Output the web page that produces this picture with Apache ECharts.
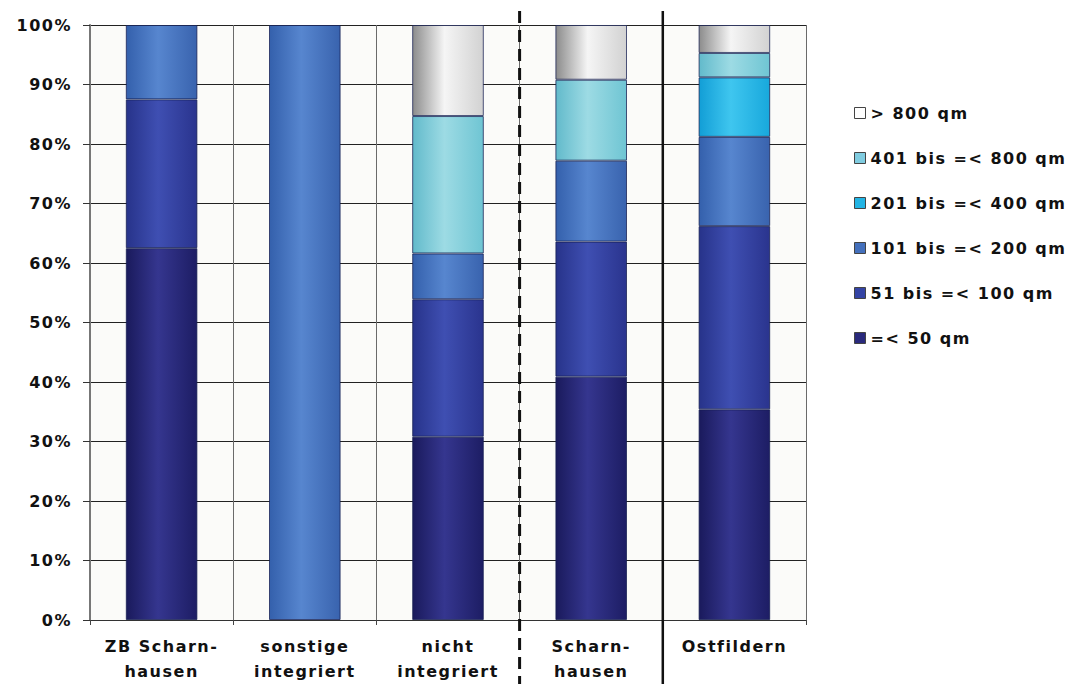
<!DOCTYPE html>
<html>
<head>
<meta charset="utf-8">
<script src="https://cdn.jsdelivr.net/npm/echarts@6/dist/echarts.min.js"></script>
<style>
  html, body { margin: 0; padding: 0; background: #ffffff; }
  #chart { width: 1068px; height: 684px; }
  #chart text { letter-spacing: 1.5px; }
</style>
</head>
<body>
<div id="chart"></div>
<script>
// Verkaufsflächen-Größenklassen je Standortlage (Anteile in %)
const categories = ['ZB Scharn-\nhausen', 'sonstige\nintegriert', 'nicht\nintegriert', 'Scharn-\nhausen', 'Ostfildern'];
const seriesNames = ['=< 50 qm', '51 bis =< 100 qm', '101 bis =< 200 qm', '201 bis =< 400 qm', '401 bis =< 800 qm', '> 800 qm'];
const upTo50   = [62.5,   0, 30.8, 40.9, 35.4];
const upTo100  = [25.0,   0, 23.1, 22.7, 30.8];
const upTo200  = [12.5, 100,  7.7, 13.6, 15.0];
const upTo400  = [   0,   0,    0,    0, 10.0];
const upTo800  = [   0,   0, 23.1, 13.6,  4.1];
const over800  = [   0,   0, 15.3,  9.2,  4.7];
const yTicks = [0, 10, 20, 30, 40, 50, 60, 70, 80, 90, 100];

const FONT = 'DejaVu Sans';

// cylinder-like shading across each column
function shade(edgeL, mid, edgeR) {
  return {
    type: 'linear', x: 0, y: 0, x2: 1, y2: 0,
    colorStops: [
      { offset: 0, color: edgeL },
      { offset: 0.45, color: mid },
      { offset: 1, color: edgeR }
    ]
  };
}

const palette = [
  { fill: shade('#1a1a5c', '#35368f', '#1d1d64'), key: '#2a2a7c' },
  { fill: shade('#27338a', '#3f4fb2', '#2a348e'), key: '#3444a4' },
  { fill: shade('#3460ac', '#5786cf', '#3963ae'), key: '#4470bc' },
  { fill: shade('#129ed6', '#3fc6ef', '#18a8dc'), key: '#22b4e4' },
  { fill: shade('#62bacb', '#9ddbe4', '#6fc5d3'), key: '#80cce0' },
  { fill: shade('#8c8c8c', '#f5f5f5', '#d2d2d2'), key: '#ffffff' }
];

const values = [upTo50, upTo100, upTo200, upTo400, upTo800, over800];

const series = seriesNames.map((name, i) => ({
  name: name,
  type: 'bar',
  stack: 'total',
  barWidth: '50%',
  data: values[i].map(v => (v === 0 ? '-' : v)),
  itemStyle: {
    color: palette[i].fill,
    borderColor: 'rgba(20,30,80,0.75)',
    borderWidth: 1
  },
  emphasis: { disabled: true }
}));

const chart = echarts.init(document.getElementById('chart'), null, { renderer: 'svg' });

chart.setOption({
  animation: false,
  backgroundColor: '#ffffff',
  textStyle: { fontFamily: FONT },
  grid: {
    left: 90, right: 262, top: 25, bottom: 59,
    show: true, backgroundColor: '#fbfbf9', borderWidth: 0
  },
  legend: {
    orient: 'vertical',
    left: 849,
    top: 100,
    itemWidth: 11,
    itemHeight: 11,
    itemGap: 29,
    icon: 'rect',
    selectedMode: false,
    textStyle: { fontFamily: FONT, fontWeight: 'bold', fontSize: 16, color: '#111' },
    data: seriesNames.slice().reverse().map(n => ({
      name: n,
      itemStyle: {
        color: palette[seriesNames.indexOf(n)].key,
        borderColor: '#444',
        borderWidth: 1
      }
    }))
  },
  xAxis: {
    type: 'category',
    data: categories,
    axisLine: { lineStyle: { color: '#333', width: 1 } },
    axisTick: { show: true, length: 5, lineStyle: { color: '#444' } },
    splitLine: { show: true, lineStyle: { color: '#6a6a6a', width: 1 } },
    axisLabel: {
      margin: 14,
      fontFamily: FONT, fontWeight: 'bold', fontSize: 16, color: '#111',
      lineHeight: 25
    }
  },
  yAxis: {
    type: 'value',
    min: yTicks[0],
    max: yTicks[yTicks.length - 1],
    interval: yTicks[1] - yTicks[0],
    axisLine: { show: true, lineStyle: { color: '#777', width: 2 } },
    axisTick: { show: true, inside: false, length: 7, lineStyle: { color: '#333' } },
    splitLine: { show: true, lineStyle: { color: '#222', width: 1 } },
    axisLabel: {
      margin: 18,
      formatter: '{value}%',
      fontFamily: FONT, fontWeight: 'bold', fontSize: 16, color: '#111'
    }
  },
  series: series
});

// group separators between the location groups, reaching past the plot area
function boundaryX(leftIndex) {
  const a = chart.convertToPixel({ xAxisIndex: 0 }, leftIndex);
  const b = chart.convertToPixel({ xAxisIndex: 0 }, leftIndex + 1);
  return (a + b) / 2;
}
const dashedX = boundaryX(2);
const solidX = boundaryX(3);
chart.setOption({
  graphic: [
    {
      type: 'line', z: 100,
      shape: { x1: dashedX, y1: 11, x2: dashedX, y2: 684 },
      style: { stroke: '#111', lineWidth: 3, lineDash: [12, 7] }
    },
    {
      type: 'line', z: 100,
      shape: { x1: solidX, y1: 11, x2: solidX, y2: 684 },
      style: { stroke: '#111', lineWidth: 2.5 }
    }
  ]
});
</script>
</body>
</html>
